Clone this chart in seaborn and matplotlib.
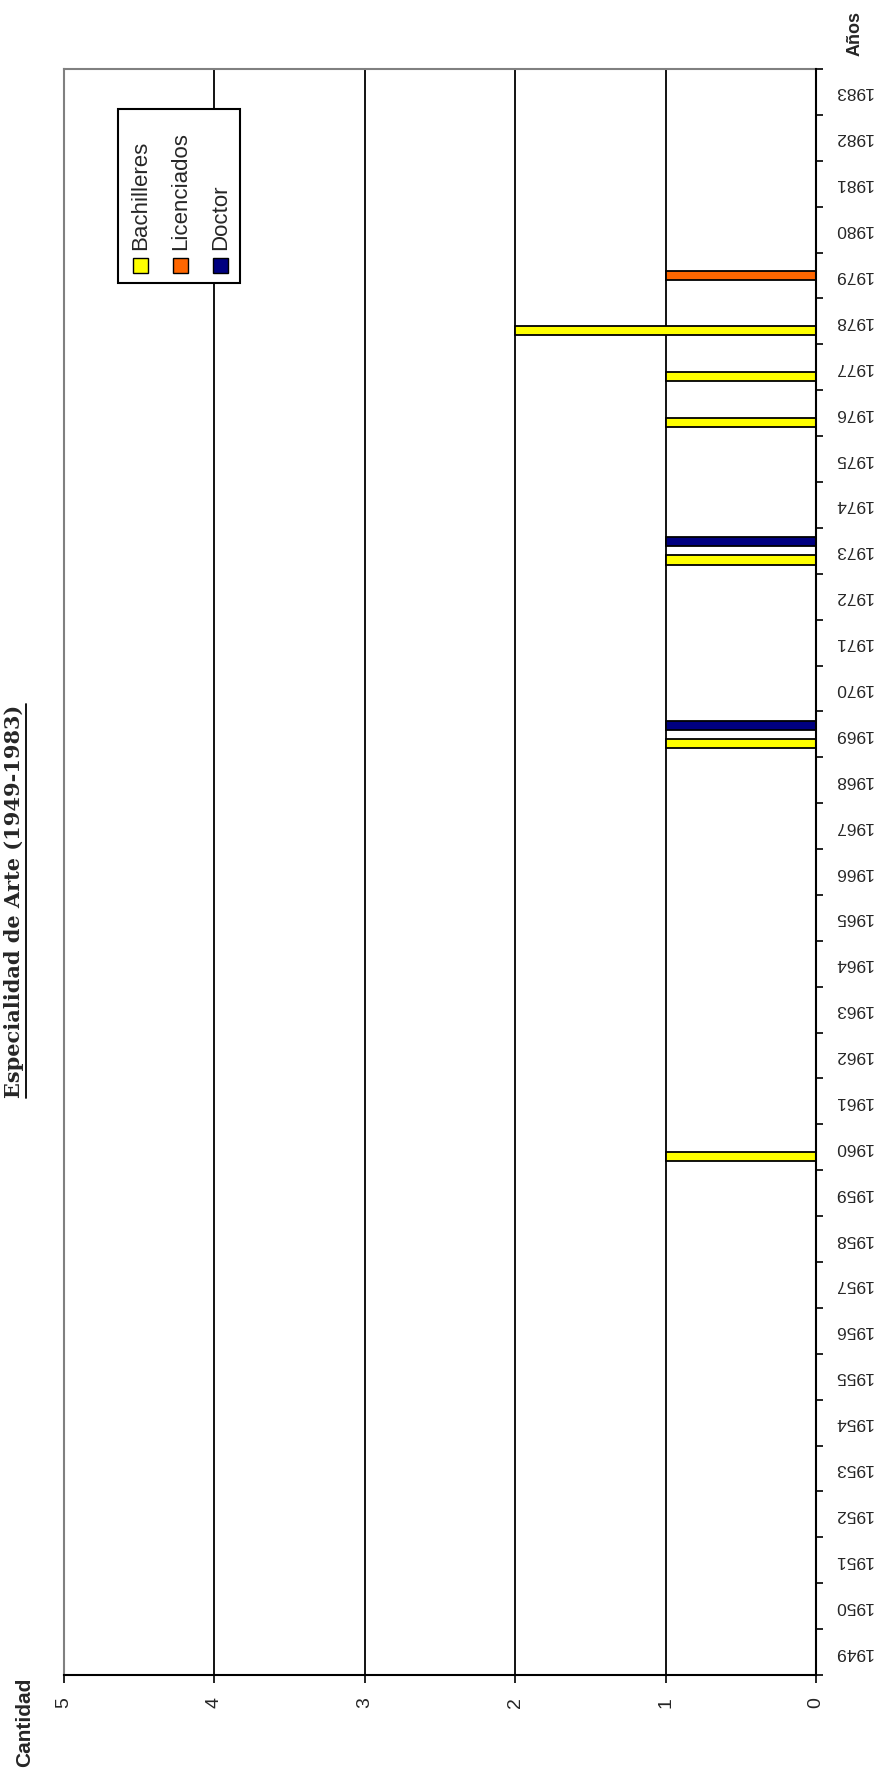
import numpy as np
import pandas as pd
import seaborn as sns
import matplotlib
matplotlib.use("Agg")
import matplotlib.pyplot as plt
from matplotlib.patches import Rectangle
from matplotlib.lines import Line2D

# ---------------- data ----------------
years = ["1949", "1950", "1951", "1952", "1953", "1954", "1955", "1956", "1957",
         "1958", "1959", "1960", "1961", "1962", "1963", "1964", "1965", "1966",
         "1967", "1968", "1969", "1970", "1971", "1972", "1973", "1974", "1975",
         "1976", "1977", "1978", "1979", "1980", "1981", "1982", "1983"]
bachilleres = [0, 0, 0, 0, 0, 0, 0, 0, 0, 0, 0, 1, 0, 0, 0, 0, 0, 0,
               0, 0, 1, 0, 0, 0, 1, 0, 0, 1, 1, 2, 0, 0, 0, 0, 0]
licenciados = [0, 0, 0, 0, 0, 0, 0, 0, 0, 0, 0, 0, 0, 0, 0, 0, 0, 0,
               0, 0, 0, 0, 0, 0, 0, 0, 0, 0, 0, 0, 1, 0, 0, 0, 0]
doctor = [0, 0, 0, 0, 0, 0, 0, 0, 0, 0, 0, 0, 0, 0, 0, 0, 0, 0,
          0, 0, 1, 0, 0, 0, 1, 0, 0, 0, 0, 0, 0, 0, 0, 0, 0]
series_names = ["Bachilleres", "Licenciados", "Doctor"]
series_colors = ["#FFFF00", "#FF6600", "#000080"]
value_ticks = [0, 1, 2, 3, 4, 5]

title = "Especialidad de Arte (1949-1983)"
value_title = "Cantidad"
year_title = "Años"

df = pd.DataFrame({
    "year": years * 3,
    "series": [series_names[0]] * len(years) + [series_names[1]] * len(years)
              + [series_names[2]] * len(years),
    "value": bachilleres + licenciados + doctor,
})

# ---------------- style ----------------
sns.set_theme(style="white")
plt.rcParams["font.family"] = ["Liberation Sans", "DejaVu Sans"]

W, H = 892, 1775
fig = plt.figure(figsize=(W / 100, H / 100), dpi=100)
fig.patch.set_facecolor("white")

def fx(px):
    return px / W

def fy(py):
    return 1 - py / H

ax_left, ax_right, ax_top, ax_bot = 64, 816, 69, 1675
ax = fig.add_axes([fx(ax_left), fy(ax_bot), fx(ax_right - ax_left),
                   (ax_bot - ax_top) / H])
ax.set_facecolor("white")

sns.barplot(data=df, y="year", x="value", hue="series", orient="h",
            order=years, hue_order=series_names, palette=series_colors,
            width=0.6, edgecolor="black", linewidth=1.3, saturation=1,
            legend=False, ax=ax, zorder=3)

ax.set_xlim(max(value_ticks), 0)
ax.set_ylim(-0.5, len(years) - 0.5)

# value axis (bottom)
ax.set_xticks(value_ticks)
ax.set_xticklabels([str(v) for v in value_ticks], rotation=90, fontsize=14)
ax.tick_params(axis="x", which="major", direction="out", length=6, width=1.2,
               color="black", pad=10, bottom=True)
ax.grid(axis="x", color="black", linewidth=1.3, zorder=0)
ax.grid(axis="y", visible=False)

# year axis (right)
ax.yaxis.tick_right()
ax.set_yticks(np.arange(len(years)))
ax.set_yticklabels(years, rotation=180, fontsize=12.5, va="center", ha="left")
ax.set_yticks(np.arange(-0.5, len(years), 1.0), minor=True)
ax.tick_params(axis="y", which="major", length=0, pad=13, right=True, left=False)
ax.tick_params(axis="y", which="minor", direction="out", length=5, width=1.2,
               color="black", right=True, left=False)
ax.set_xlabel("")
ax.set_ylabel("")

for side in ["top", "left"]:
    ax.spines[side].set_color("#808080")
    ax.spines[side].set_linewidth(1.5)
for side in ["right", "bottom"]:
    ax.spines[side].set_color("black")
    ax.spines[side].set_linewidth(1.5)
    ax.spines[side].set_zorder(5)

# ---------------- titles ----------------
t = fig.text(fx(14), fy(901), title, rotation=90, ha="center", va="center",
             fontsize=15, fontweight="bold", family=["DejaVu Serif"])
fig.text(fx(25), fy(1722), value_title, rotation=90, ha="center", va="center",
         fontsize=15, fontweight="bold")
fig.text(fx(855), fy(33), year_title, rotation=90, ha="center", va="center",
         fontsize=13, fontweight="bold")

# ---------------- legend (rotated, drawn as in reference) ----------------
lx0, lx1, ly0, ly1 = 118, 240, 109, 283
fig.add_artist(Rectangle((fx(lx0), fy(ly1)), fx(lx1 - lx0), (ly1 - ly0) / H,
                         transform=fig.transFigure, facecolor="white",
                         edgecolor="black", linewidth=1.5, zorder=10))
entry_x = [140, 180, 220]
sq = 15
for name, col, cx in zip(series_names, series_colors, entry_x):
    fig.add_artist(Rectangle((fx(cx - sq / 2), fy(273)), fx(sq), sq / H,
                             transform=fig.transFigure, facecolor=col,
                             edgecolor="black", linewidth=1.0, zorder=11))
    fig.text(fx(cx + 1), fy(250), name, rotation=90, ha="center", va="bottom",
             fontsize=16, zorder=11)

# underline of the title (right side since rotated)
fig.canvas.draw()
bb = t.get_window_extent().transformed(fig.transFigure.inverted())
fig.add_artist(Line2D([bb.x1 + 1.5 / W, bb.x1 + 1.5 / W], [bb.y0, bb.y1],
                      transform=fig.transFigure, color="black", linewidth=1.3))

fig.savefig("out.png", dpi=100, facecolor="white")
